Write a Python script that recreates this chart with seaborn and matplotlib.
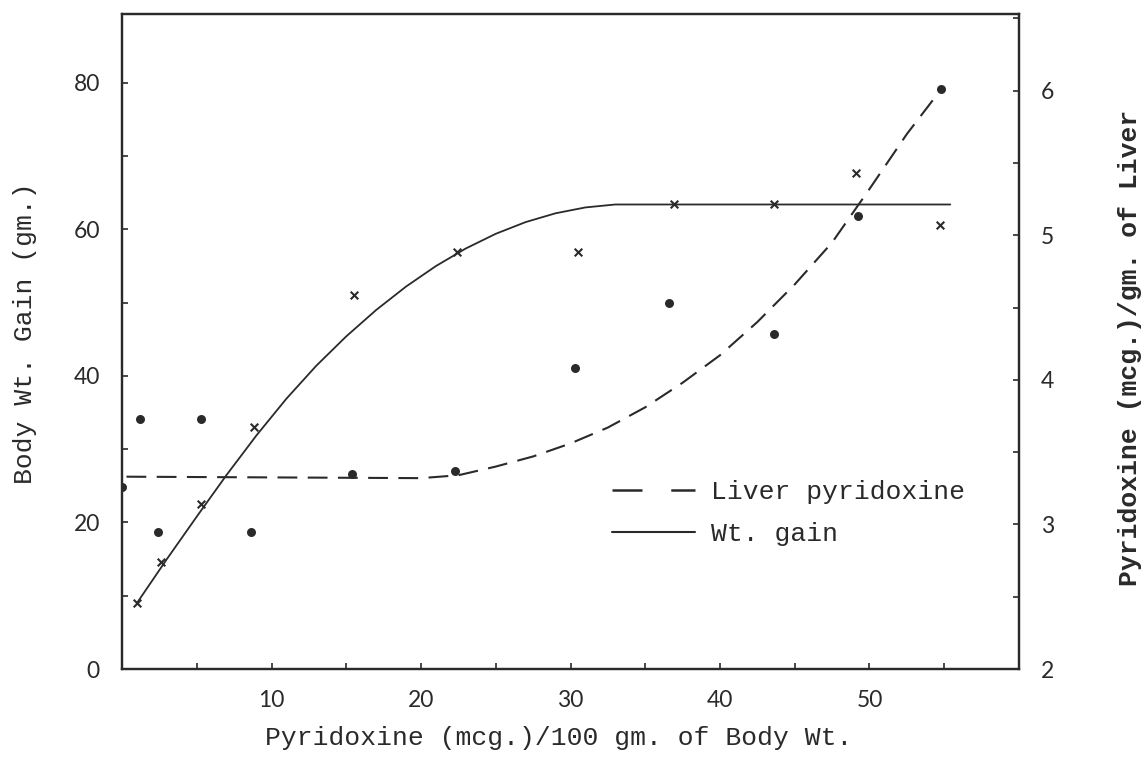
import matplotlib
matplotlib.use("Agg")
import matplotlib.pyplot as plt
import seaborn as sns
from matplotlib.lines import Line2D
from matplotlib.ticker import MultipleLocator, FixedLocator

# ---------------- data ----------------
# Weight gain observations (x marks) -> left axis, gm.
gain_x = [1.0, 2.6, 5.3, 8.8, 15.5, 22.4, 30.5, 36.9, 43.6, 49.1, 54.7]
gain_y = [9.0, 14.6, 22.5, 33.0, 51.1, 56.9, 56.9, 63.5, 63.5, 67.7, 60.6]

# Weight gain fitted curve (solid)
gain_curve_x = [1, 3, 5, 7, 9, 11, 13, 15, 17, 19, 21, 23, 25, 27, 29, 31, 33, 55.4]
gain_curve_y = [9.0, 15.0, 20.8, 26.5, 31.9, 36.9, 41.4, 45.4, 49.0, 52.2, 55.0,
                57.4, 59.4, 61.0, 62.2, 63.0, 63.4, 63.4]

# Liver pyridoxine observations (dots) -> right axis, mcg./gm.
liver_x = [0.0, 1.2, 5.3, 2.4, 8.6, 15.4, 22.3, 30.3, 36.6, 43.6, 49.2, 54.8]
liver_y = [3.26, 3.73, 3.73, 2.95, 2.95, 3.35, 3.37, 4.08, 4.53, 4.32, 5.13, 6.01]

# Liver pyridoxine fitted curve (dashed)
liver_curve_x = [0.3, 20.0, 22.5, 25.0, 27.5, 30.0, 32.5, 35.0, 37.5, 40.0,
                 42.5, 45.0, 47.5, 50.0, 52.5, 54.8]
liver_curve_y = [3.33, 3.32, 3.34, 3.40, 3.47, 3.56, 3.67, 3.81, 3.98, 4.17,
                 4.40, 4.66, 4.95, 5.32, 5.70, 6.01]

x_ticks = [10, 20, 30, 40, 50]
left_ticks = [0, 20, 40, 60, 80]
right_ticks = [2, 3, 4, 5, 6]

legend_labels = ["Liver pyridoxine", "Wt. gain"]
x_label = "Pyridoxine (mcg.)/100 gm. of Body Wt."
left_label = "Body Wt. Gain (gm.)"
right_label = "Pyridoxine (mcg.)/gm. of Liver"

# ---------------- style ----------------
sns.set_theme(style="white")
plt.rcParams["font.family"] = ["Lato", "DejaVu Sans"]
MONO = ["Liberation Mono", "DejaVu Sans Mono"]
INK = "#2a2a2a"

fig = plt.figure(figsize=(11.46, 7.61), dpi=100)
ax = fig.add_axes([122 / 1146, 1 - 669 / 761, (1019 - 122) / 1146, (669 - 14) / 761])
ax2 = ax.twinx()

# weight gain (left axis)
sns.lineplot(x=gain_curve_x, y=gain_curve_y, ax=ax, color=INK, linewidth=1.3,
             sort=False, estimator=None)
sns.scatterplot(x=gain_x, y=gain_y, ax=ax, marker="x", s=30, color=INK,
                linewidth=1.5, zorder=5)

# liver pyridoxine (right axis)
sns.lineplot(x=liver_curve_x, y=liver_curve_y, ax=ax2, color=INK, linewidth=1.5,
             sort=False, estimator=None, linestyle=(0, (9.5, 5)))
sns.scatterplot(x=liver_x, y=liver_y, ax=ax2, marker="o", s=42, color=INK,
                edgecolor=INK, linewidth=0, zorder=5)

# limits
ax.set_xlim(0, 60)
ax.set_ylim(0, 89.4)
ax2.set_ylim(2, 6.53)

# ticks
ax.xaxis.set_major_locator(FixedLocator(x_ticks))
ax.xaxis.set_minor_locator(MultipleLocator(5))
ax.yaxis.set_major_locator(FixedLocator(left_ticks))
ax.yaxis.set_minor_locator(MultipleLocator(10))
ax2.yaxis.set_major_locator(FixedLocator(right_ticks))
ax2.yaxis.set_minor_locator(MultipleLocator(0.5))

ax.tick_params(axis="x", which="both", direction="in", length=4, width=1.2,
               color=INK, labelsize=16.5, labelcolor=INK, pad=15, bottom=True, top=False)
ax.tick_params(axis="y", which="both", direction="in", length=4, width=1.2,
               color=INK, labelsize=16.5, labelcolor=INK, pad=16, left=True, right=False)
ax2.tick_params(axis="y", which="both", direction="in", length=4, width=1.2,
                color=INK, labelsize=16.5, labelcolor=INK, pad=16, right=True, left=False)

for a in (ax, ax2):
    for sp in a.spines.values():
        sp.set_visible(True)
        sp.set_color(INK)
        sp.set_linewidth(1.6)
    a.set_xlabel("")
    a.set_ylabel("")
    a.grid(False)

# axis titles (typewriter face)
fig.text(559 / 1146, 1 - 738 / 761, x_label, ha="center", va="center",
         family=MONO, fontsize=19, color=INK)
fig.text(25 / 1146, 1 - 333 / 761, left_label, ha="center", va="center",
         rotation=90, family=MONO, fontsize=19, color=INK)
fig.text(1130 / 1146, 1 - 348 / 761, right_label, ha="center", va="center",
         rotation=90, family=MONO, fontsize=19, color=INK, fontweight="bold")

# legend
handles = [
    Line2D([], [], color=INK, linewidth=1.8, linestyle=(0, (12, 11.5))),
    Line2D([], [], color=INK, linewidth=1.5, linestyle="-"),
]
leg = ax2.legend(handles, legend_labels, loc="upper left",
                 bbox_to_anchor=((612 - 122) / 897, (669 - 480) / 655),
                 frameon=False, borderpad=0, borderaxespad=0,
                 handlelength=3.15, handletextpad=0.6, labelspacing=0.7,
                 prop={"family": MONO, "size": 19})
for t in leg.get_texts():
    t.set_color(INK)

fig.savefig("out.png", dpi=100, facecolor="white")
